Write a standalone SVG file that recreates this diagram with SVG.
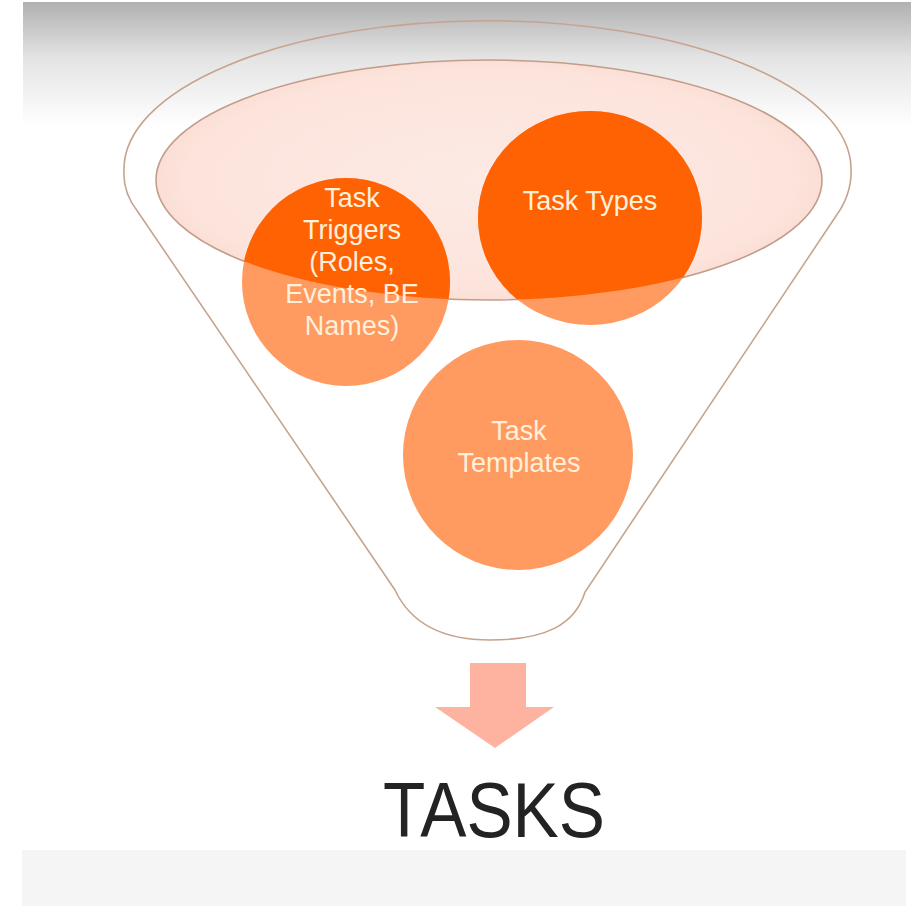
<svg xmlns="http://www.w3.org/2000/svg" width="917" height="906" viewBox="0 0 917 906">
<defs>
<linearGradient id="topfade" x1="0" y1="0" x2="0" y2="1">
<stop offset="0" stop-color="#b0b0b0"/>
<stop offset="0.45" stop-color="#e4e4e4"/>
<stop offset="1" stop-color="#ffffff"/>
</linearGradient>
<radialGradient id="bowl" cx="0.5" cy="0.5" r="0.5">
<stop offset="0" stop-color="#fdeae4"/>
<stop offset="0.9" stop-color="#fce4dc"/>
<stop offset="1" stop-color="#fbdfd6"/>
</radialGradient>
<clipPath id="bowlclip">
<ellipse cx="489" cy="180" rx="333" ry="120"/>
</clipPath>
</defs>
<style>
.line{fill:none;stroke:#c6a38e;stroke-width:1.6}
.light{fill:#ff9a60}
.dark{fill:#ff6203}
.lbl{font-family:"Liberation Sans",Arial,sans-serif;font-size:27px;fill:#fff0dc;text-anchor:middle}
.big{font-family:"Liberation Sans",Arial,sans-serif;font-size:77px;fill:#232323;text-anchor:middle}
</style>
<rect x="0" y="0" width="917" height="906" fill="#ffffff"/>
<rect x="23" y="2" width="888" height="125" fill="url(#topfade)"/>
<rect x="22" y="850" width="884" height="56" fill="#f5f5f5"/>

<g id="funnel">
<path class="line" d="M 138,212 C 127,198 123,185 124,170 A 363 148 0 0 1 851 168 C 852,186 846,202 836,216 L 585,592 C 575,625 545,640 490,640 C 440,640 410,622 395,590 Z"/>
</g>
<g id="bowl-top">
<ellipse cx="489" cy="180" rx="333" ry="120" fill="url(#bowl)" stroke="#c29d8b" stroke-width="1.6"/>
</g>

<g id="node-triggers">
<circle class="light" cx="346" cy="282" r="104"/>
<circle class="dark" cx="346" cy="282" r="104" clip-path="url(#bowlclip)"/>
<text class="lbl" x="352" y="207">Task</text>
<text class="lbl" x="352" y="239">Triggers</text>
<text class="lbl" x="352" y="271">(Roles,</text>
<text class="lbl" x="352" y="303">Events, BE</text>
<text class="lbl" x="352" y="335">Names)</text>
</g>
<g id="node-types">
<ellipse class="light" cx="590" cy="218" rx="112" ry="107"/>
<ellipse class="dark" cx="590" cy="218" rx="112" ry="107" clip-path="url(#bowlclip)"/>
<text class="lbl" x="590" y="210">Task Types</text>
</g>
<g id="node-templates">
<circle class="light" cx="518" cy="455" r="115"/>
<text class="lbl" x="519" y="440">Task</text>
<text class="lbl" x="519" y="472">Templates</text>
</g>

<g id="connectors">
<polygon points="470,663 526,663 526,707 554,707 495,748 435,707 470,707" fill="#fdb3a0"/>
</g>

<g id="node-tasks">
<text class="big" x="494" y="837" textLength="222" lengthAdjust="spacingAndGlyphs">TASKS</text>
</g>
</svg>
